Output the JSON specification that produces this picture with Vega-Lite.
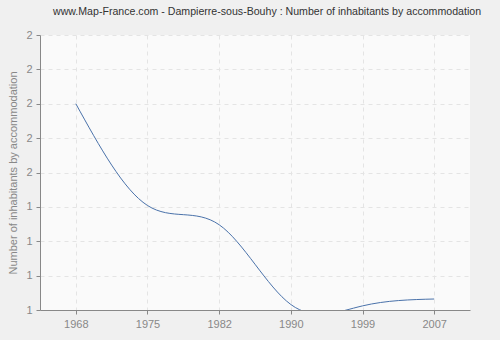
{
  "$schema": "https://vega.github.io/schema/vega-lite/v6.json",
  "width": 430,
  "height": 275,
  "autosize": {"type": "none"},
  "padding": {"left": 40, "top": 35, "right": 30, "bottom": 30},
  "background": "#f0f0f0",
  "title": {
    "text": "www.Map-France.com - Dampierre-sous-Bouhy : Number of inhabitants by accommodation",
    "fontSize": 10.6,
    "font": "Liberation Sans",
    "fontWeight": "normal",
    "color": "#333333",
    "anchor": "middle",
    "dx": 12,
    "offset": 11
  },
  "config": {
    "view": {"fill": "#fafafa", "stroke": null},
    "axis": {
      "labelFont": "Liberation Sans",
      "labelFontSize": 11,
      "labelColor": "#888888",
      "titleFont": "Liberation Sans",
      "titleFontSize": 11,
      "titleFontWeight": "normal",
      "titleColor": "#888888",
      "domainColor": "#888888",
      "tickColor": "#888888",
      "gridColor": "#e4e4e4",
      "gridDash": [4, 4],
      "tickSize": 4
    }
  },
  "data": {
    "values": [
      {"year": "1968", "value": 1.75},
      {"year": "1975", "value": 1.38},
      {"year": "1982", "value": 1.31},
      {"year": "1990", "value": 1.02},
      {"year": "1999", "value": 1.015},
      {"year": "2007", "value": 1.04}
    ]
  },
  "mark": {"type": "line", "interpolate": "natural", "clip": true, "color": "#4a72aa", "strokeWidth": 1},
  "encoding": {
    "x": {
      "field": "year",
      "type": "ordinal",
      "scale": {"type": "point", "padding": 0.5},
      "axis": {"title": null, "labelPadding": 4, "labelAngle": 0, "grid": true}
    },
    "y": {
      "field": "value",
      "type": "quantitative",
      "scale": {"domain": [1, 2], "nice": false, "zero": false},
      "axis": {
        "values": [1, 1.125, 1.25, 1.375, 1.5, 1.625, 1.75, 1.875, 2],
        "format": ".0f",
        "title": "Number of inhabitants by accommodation",
        "titlePadding": 7,
        "labelPadding": 4
      }
    }
  }
}
